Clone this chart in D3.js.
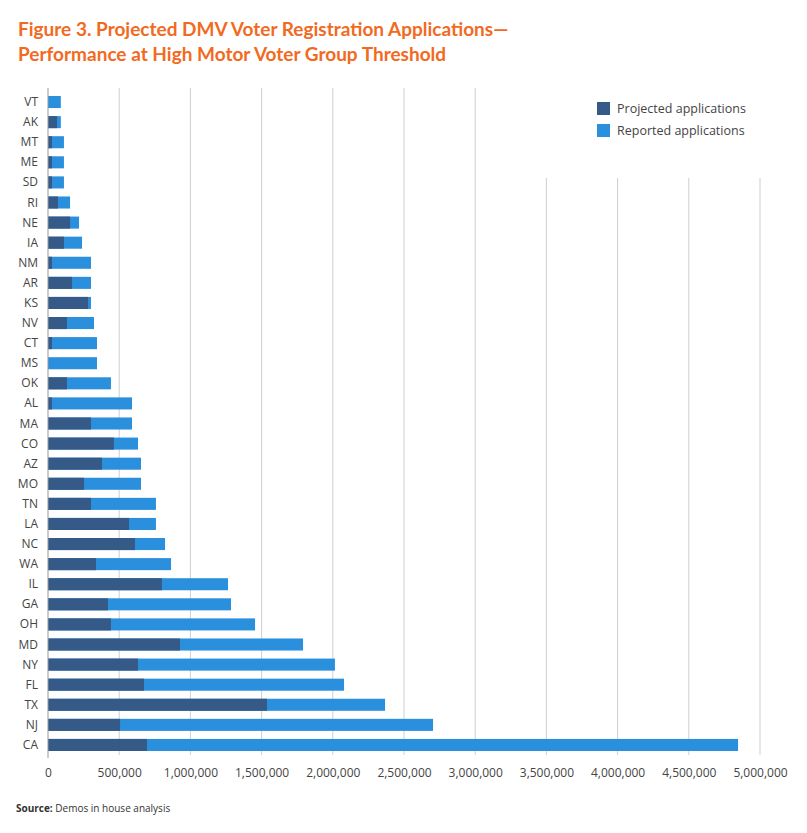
<!DOCTYPE html>
<html><head><meta charset="utf-8">
<script src="https://cdn.jsdelivr.net/npm/d3@7/dist/d3.min.js"></script>
<style>body{margin:0;background:#fff;font-family:"Open Sans",Arial,sans-serif}</style>
</head><body><svg id="c" width="807" height="833"></svg>
<script>
var states = ["VT","AK","MT","ME","SD","RI","NE","IA","NM","AR","KS","NV","CT","MS","OK","AL","MA","CO","AZ","MO","TN","LA","NC","WA","IL","GA","OH","MD","NY","FL","TX","NJ","CA"];
// projected applications
var projected = [0,63000,28000,28000,28000,70000,155000,112000,28000,169000,281000,133000,28000,0,133000,28000,302000,463000,379000,253000,302000,569000,611000,337000,800000,421000,442000,927000,632000,674000,1538000,506000,695000];
// reported applications (bar end)
var reported = [90000,90000,112000,112000,112000,155000,218000,239000,302000,302000,302000,323000,344000,344000,442000,590000,590000,632000,653000,653000,758000,758000,822000,864000,1264000,1285000,1454000,1791000,2015000,2079000,2367000,2704000,4846000];
var ticks = [0,500000,1000000,1500000,2000000,2500000,3000000,3500000,4000000,4500000,5000000];

var svg = d3.select("#c");
var x = d3.scaleLinear().domain([0,5000000]).range([48,760]);
var y = d3.scaleBand().domain(states).range([92,755]).paddingInner(0.4).paddingOuter(0.2);

svg.append("text").attr("x",18).attr("y",36).attr("fill","#f26a21")
  .attr("font-size",19).attr("font-weight",700).attr("font-family","Lato, sans-serif")
  .text("Figure 3. Projected DMV Voter Registration Applications\u2014");
svg.append("text").attr("x",18).attr("y",61).attr("fill","#f26a21")
  .attr("font-size",19).attr("font-weight",700).attr("font-family","Lato, sans-serif")
  .text("Performance at High Motor Voter Group Threshold");

// gridlines
svg.selectAll("line.grid").data(ticks.slice(1)).enter().append("line")
  .attr("x1",function(d){return x(d)}).attr("x2",function(d){return x(d)})
  .attr("y1",function(d){return d>=3500000?178:88}).attr("y2",755)
  .attr("stroke","#cfcfcf").attr("stroke-width",1);

svg.selectAll("rect.rep").data(states).enter().append("rect")
  .attr("x",x(0)).attr("y",function(d){return y(d)})
  .attr("width",function(d,i){return x(reported[i])-x(0)}).attr("height",y.bandwidth())
  .attr("fill","#2a8fdc");
svg.selectAll("rect.proj").data(states).enter().append("rect")
  .attr("x",x(0)).attr("y",function(d){return y(d)})
  .attr("width",function(d,i){return x(projected[i])-x(0)}).attr("height",y.bandwidth())
  .attr("fill","#355a87");

svg.selectAll("text.st").data(states).enter().append("text")
  .attr("x",38).attr("y",function(d){return y(d)+y.bandwidth()/2+4})
  .attr("text-anchor","end").attr("font-size",12).attr("fill","#444").text(function(d){return d});

svg.append("line").attr("x1",48).attr("x2",48).attr("y1",88).attr("y2",758).attr("stroke","#999");

var ax = svg.append("g").attr("transform","translate(0,758)")
  .call(d3.axisBottom(x).tickValues(ticks).tickFormat(d3.format(",")).tickSize(0).tickPadding(10));
ax.select(".domain").remove();
ax.selectAll("text").attr("font-size",12).attr("fill","#444").attr("font-family","Open Sans, sans-serif");

var leg = [["Projected applications","#355a87"],["Reported applications","#2a8fdc"]];
leg.forEach(function(l,i){
  svg.append("rect").attr("x",597).attr("y",102+i*22).attr("width",13).attr("height",13).attr("fill",l[1]);
  svg.append("text").attr("x",617).attr("y",113+i*22).attr("font-size",12.5).attr("fill","#444").text(l[0]);
});

svg.append("text").attr("x",16).attr("y",812).attr("font-size",10).attr("fill","#333")
  .html('<tspan font-weight="700">Source:</tspan> Demos in house analysis');
</script></body></html>
